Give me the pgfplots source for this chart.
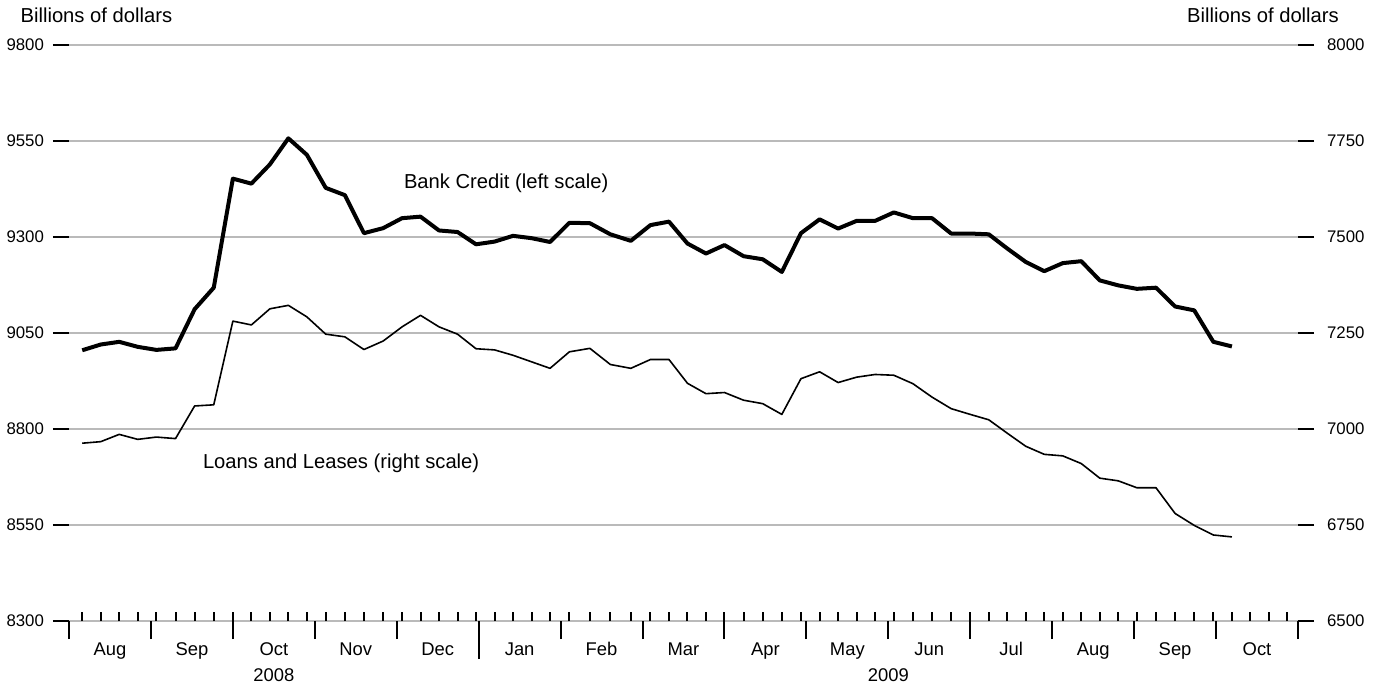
\documentclass[border=0pt]{standalone}
\usepackage{fontspec}
\setmainfont{Liberation Sans}
\usepackage{pgfplots}
\usepackage{pgfplotstable}
\pgfplotsset{compat=1.18}

% x = months since 1 Aug 2008 (each month equal width), weekly Wednesdays
\pgfplotstableread{
x       bank   loans
0.1613  9005   6963
0.3871  9020   6967
0.6129  9027   6986
0.8387  9014   6973
1.0667  9006   6979
1.3000  9010   6975
1.5333  9112   7060
1.7667  9168   7063
2.0000  9452   7281
2.2258  9439   7271
2.4516  9489   7313
2.6774  9557   7322
2.9032  9514   7292
3.1333  9428   7247
3.3667  9409   7240
3.6000  9310   7207
3.8333  9323   7229
4.0645  9349   7266
4.2903  9353   7296
4.5161  9317   7266
4.7419  9313   7247
4.9677  9281   7209
5.1935  9288   7206
5.4194  9303   7192
5.6452  9297   7175
5.8710  9287   7158
6.1071  9337   7201
6.3571  9336   7210
6.6071  9307   7168
6.8571  9290   7158
7.0968  9331   7181
7.3226  9340   7181
7.5484  9283   7119
7.7742  9257   7092
8.0000  9279   7095
8.2333  9250   7075
8.4667  9242   7066
8.7000  9209   7038
8.9333  9310   7131
9.1613  9346   7149
9.3871  9322   7121
9.6129  9342   7135
9.8387  9342   7142
10.0667 9364   7140
10.3000 9349   7118
10.5333 9349   7083
10.7667 9309   7053
11.0000 9309   7038
11.2258 9307   7024
11.4516 9270   6989
11.6774 9235   6955
11.9032 9211   6934
12.1290 9232   6930
12.3548 9237   6910
12.5806 9187   6872
12.8065 9174   6865
13.0333 9165   6847
13.2667 9168   6847
13.5000 9119   6780
13.7333 9109   6749
13.9667 9027   6724
14.1935 9015   6719
}\credit

\pgfplotsset{
  base/.style={
    at={(34.5pt,33pt)}, anchor=south west,
    scale only axis, width=614.5pt, height=288pt,
    xmin=0, xmax=15,
    axis line style={draw=none},
    tick style={black, line width=1pt},
    /pgf/number format/assume math mode=true,
    /pgf/number format/1000 sep={},
    ticklabel style={font=\fontsize{8.4}{10}\selectfont},
  }
}

\begin{document}
\begin{tikzpicture}[x=1pt,y=1pt]
\path[use as bounding box] (0,0) rectangle (693.5,343.5);

% left axis: gridlines, left ticks, bank credit
\begin{axis}[base,
  ymin=8300, ymax=9800,
  ytick={8300,8550,9050,8800,9300,9550,9800},
  ymajorgrids, grid style={color=black!27, line width=0.8pt},
  tick align=outside, major tick length=8pt,
  ytick pos=left, yticklabel pos=left,
  yticklabel style={anchor=east}, yticklabel shift=1pt,
  xtick=\empty]
\addplot[black, line width=2pt, line join=round] table[x=x, y=bank] {\credit};
\end{axis}

% right axis: loans and leases
\begin{axis}[base,
  ymin=6500, ymax=8000,
  ytick={6500,6750,7000,7250,7500,7750,8000},
  tick align=outside, major tick length=8pt,
  ytick pos=right, yticklabel pos=right,
  yticklabel style={anchor=west}, yticklabel shift=3pt,
  xtick=\empty]
\addplot[black, line width=0.8pt, line join=round] table[x=x, y=loans] {\credit};
\end{axis}

% month boundary ticks with month names
\begin{axis}[base,
  ymin=0, ymax=1, ytick=\empty,
  tick align=outside, major tick length=9pt,
  xtick pos=lower,
  xtick={0,1,...,15},
  xticklabels={Aug,Sep,Oct,Nov,Dec,Jan,Feb,Mar,Apr,May,Jun,Jul,Aug,Sep,Oct},
  x tick label as interval,
  xticklabel style={font=\fontsize{9.2}{11}\selectfont, anchor=base, yshift=-8pt},
  xticklabel shift=0pt]
\end{axis}

% year boundary tick
\begin{axis}[base,
  ymin=0, ymax=1, ytick=\empty,
  tick align=outside, major tick length=19pt,
  xtick pos=lower, xtick={5}, xticklabels={}]
\end{axis}

% weekly ticks (Wednesdays)
\begin{axis}[base,
  ymin=0, ymax=1, ytick=\empty,
  tick align=inside, major tick length=4.5pt,
  xtick pos=lower, xticklabels={},
  xtick={0.1613,0.3871,0.6129,0.8387,1.0667,1.3,1.5333,1.7667,2.0,2.2258,2.4516,2.6774,2.9032,3.1333,3.3667,3.6,3.8333,4.0645,4.2903,4.5161,4.7419,4.9677,5.1935,5.4194,5.6452,5.871,6.1071,6.3571,6.6071,6.8571,7.0968,7.3226,7.5484,7.7742,8.0,8.2333,8.4667,8.7,8.9333,9.1613,9.3871,9.6129,9.8387,10.0667,10.3,10.5333,10.7667,11.0,11.2258,11.4516,11.6774,11.9032,12.129,12.3548,12.5806,12.8065,13.0333,13.2667,13.5,13.7333,13.9667,14.1935,14.4194,14.6452,14.871}]
\end{axis}

% texts
\node[anchor=base west, inner sep=0pt, font=\fontsize{10.1}{12}\selectfont] at (10.1,332.2) {Billions of dollars};
\node[anchor=base east, inner sep=0pt, font=\fontsize{10.1}{12}\selectfont] at (669.6,332.2) {Billions of dollars};
\node[anchor=base west, inner sep=0pt, font=\fontsize{10.1}{12}\selectfont] at (201.8,249.5) {Bank Credit (left scale)};
\node[anchor=base west, inner sep=0pt, font=\fontsize{10.1}{12}\selectfont] at (101.3,109.35) {Loans and Leases (right scale)};
\node[font=\fontsize{9.2}{11}\selectfont] at (136.9,6) {2008};
\node[font=\fontsize{9.2}{11}\selectfont] at (444.2,6) {2009};
\end{tikzpicture}
\end{document}
